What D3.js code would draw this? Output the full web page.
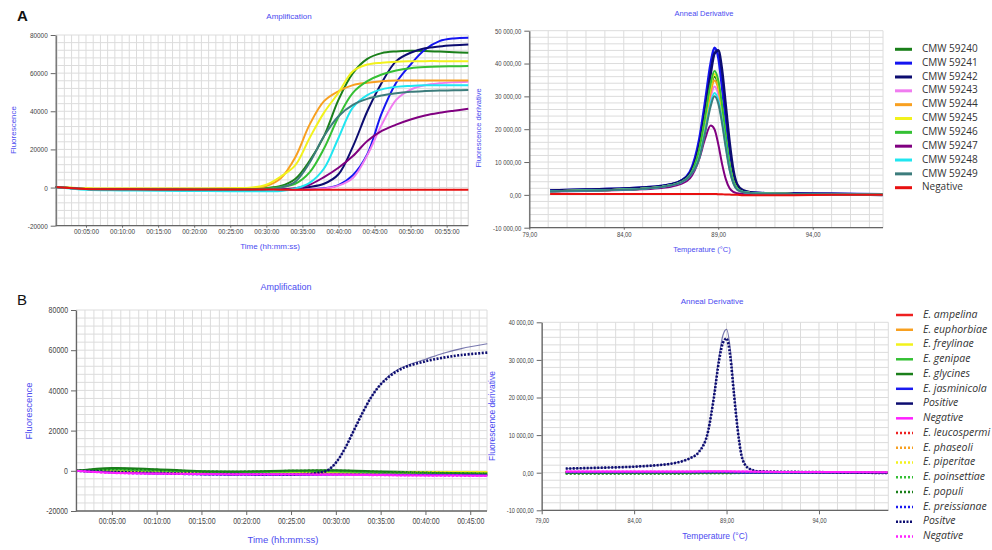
<!DOCTYPE html>
<html><head><meta charset="utf-8">
<script src="https://cdn.jsdelivr.net/npm/d3@7"></script>
<style>body{margin:0;background:#fff}svg{display:block}</style>
</head><body><svg id="c" width="992" height="550"></svg>
<script>
// ---------------- DATA ----------------
// Panel A – amplification (time in minutes)
const ampTimeA = [0.8,5,10,15,20,25,28,30,32,34,36,38,40,42,44,46,48,50,52,54,56,58];
const ampA_59240 = [300,-600,-700,-700,-700,-700,-500,-200,800,4500,14000,27000,46000,60000,67500,70500,71400,71700,71600,71300,71000,70700];
const ampA_59241 = [300,-800,-1000,-1100,-1200,-1300,-1300,-1300,-1300,-1200,-1000,-400,1300,6500,17500,39000,55000,64500,72400,76800,78200,78500];
const ampA_59242 = [300,-800,-1000,-1100,-1200,-1300,-1300,-1200,-1000,-600,300,2000,7000,21500,40000,55000,66300,70700,73000,74000,74600,75000];
const ampA_59243 = [300,-800,-1000,-1100,-1200,-1300,-1300,-1300,-1300,-1200,-1000,-500,1000,5000,17000,33000,46000,51400,53700,54700,55200,55500];
const ampA_59244 = [300,-500,-600,-600,-600,-500,-300,800,4900,15800,33000,45300,50500,53700,55000,55800,56100,56100,56100,56100,56100,56100];
const ampA_59245 = [300,-400,-500,-500,-500,-300,0,1500,5800,11600,26000,39300,49700,61000,64500,65500,66000,66200,66300,66300,66300,66300];
const ampA_59246 = [300,-700,-800,-900,-900,-900,-800,-500,300,2000,8000,20500,37000,49700,55800,59300,61400,62600,63200,63500,63600,63700];
const ampA_59247 = [300,-700,-900,-1000,-1100,-1200,-1200,-1100,-900,-300,1500,5500,10400,16500,24400,29700,33000,35700,37800,39200,40300,41300];
const ampA_59248 = [300,-1200,-1500,-1700,-1800,-1900,-1900,-1900,-1800,-500,2500,10000,26000,42000,48500,51500,52800,53300,53600,53700,53700,53700];
const ampA_59249 = [300,-800,-1000,-1100,-1200,-1200,-1100,-900,0,3000,13000,27000,37400,43400,46500,48300,49500,50200,50600,50900,51000,51200];
const ampA_neg   = [300,-700,-900,-1000,-1000,-1000,-1000,-1000,-1100,-1100,-1100,-1100,-1100,-1100,-1100,-1100,-1100,-1100,-1100,-1100,-1100,-1100];

// Panel A – anneal derivative (temperature °C)
const meltTempA = [80.1,82,84,85,86,86.5,87,87.5,88,88.3,88.6,88.8,89.0,89.2,89.4,89.6,89.8,90.0,90.3,90.7,91.5,93,95,97.7];
const meltA_59240 = [1100,1300,1600,1900,2400,2900,3700,5800,13400,22400,32400,36000,33400,26300,17200,9100,4100,1900,900,600,400,300,200,100];
const meltA_59241 = [1300,1600,1900,2200,2700,3200,4200,7000,17000,28000,40000,44800,42000,33000,22000,12000,5500,2500,1200,700,500,400,300,200];
const meltA_59242 = [1300,1600,1900,2200,2700,3200,4200,6500,15000,25000,37000,43000,44000,38000,27000,16000,7500,3200,1400,800,500,400,300,0];
const meltA_59243 = [1100,1300,1600,1900,2400,2900,3700,5800,12300,20600,29700,33000,30600,24100,15700,8300,3800,1800,900,600,400,300,200,100];
const meltA_59244 = [1100,1300,1600,1900,2400,2900,3700,5800,12900,21700,31300,34800,32300,25400,16600,8800,4000,1900,900,600,400,300,200,100];
const meltA_59245 = [1100,1300,1600,1900,2400,2900,3700,5800,13600,22900,33100,36800,34200,26900,17500,9300,4200,2000,900,600,400,300,200,100];
const meltA_59246 = [1100,1300,1600,1900,2400,2900,3800,6000,14000,23500,34000,37700,35000,27500,18000,9500,4300,2000,1000,600,400,300,200,100];
const meltA_59247 = [1000,1200,1500,1700,2100,2500,3300,5000,11000,17000,21100,20000,15500,9500,4800,2000,900,500,300,200,200,100,100,0];
const meltA_59248 = [1100,1300,1600,1900,2400,2900,3700,5800,11500,19300,27900,31000,28800,22600,14800,7800,3600,1700,900,600,400,300,200,100];
const meltA_59249 = [1100,1300,1600,1900,2400,2900,3700,5800,11200,18700,27000,30000,27800,21900,14300,7600,3500,1600,900,600,400,300,200,100];
const meltA_neg   = [300,300,300,300,300,300,300,300,300,300,300,300,200,200,100,100,0,0,-100,-100,-100,-100,0,0];

const namesA = ["CMW 59240","CMW 59241","CMW 59242","CMW 59243","CMW 59244","CMW 59245","CMW 59246","CMW 59247","CMW 59248","CMW 59249","Negative"];
const ampValsA  = [ampA_59240,ampA_59241,ampA_59242,ampA_59243,ampA_59244,ampA_59245,ampA_59246,ampA_59247,ampA_59248,ampA_59249,ampA_neg];
const meltValsA = [meltA_59240,meltA_59241,meltA_59242,meltA_59243,meltA_59244,meltA_59245,meltA_59246,meltA_59247,meltA_59248,meltA_59249,meltA_neg];

// Panel B – amplification
const ampTimeB = [1,5,10,15,20,25,30,35,40,46.9];
const ampTimePosB = [1,5,10,15,20,25,27,28,29,30,31,32,33,34,35,36,37,38,40,42,44,46.9];
const ampB_ampelina    = [0,-400,-800,-1100,-1300,-1400,-1500,-1700,-1900,-2100];
const ampB_euphorbiae  = [0,-300,-600,-800,-900,-900,-800,-800,-800,-700];
const ampB_freylinae   = [0,-200,-500,-700,-800,-800,-700,-700,-600,-600];
const ampB_genipae     = [0,600,100,-400,-600,-300,-300,-700,-1000,-1300];
const ampB_glycines    = [0,1400,800,-200,-300,200,300,-300,-900,-1400];
const ampB_jasminicola = [0,-800,-1300,-1700,-1900,-2000,-1900,-1900,-2000,-2200];
const ampB_positive    = [0,-600,-1100,-1500,-1700,-1800,-1500,-1000,0,4000,11000,20000,29000,37000,43000,47500,50500,52500,55500,58500,60800,63200];
const ampB_negative    = [0,-1000,-1400,-1600,-1700,-1700,-1900,-2100,-2300,-2500];
const ampB_leucospermi = [0,-500,-900,-1200,-1400,-1500,-1600,-1800,-2000,-2200];
const ampB_phaseoli    = [0,-300,-700,-900,-1000,-1000,-900,-900,-900,-800];
const ampB_piperitae   = [0,-200,-600,-800,-900,-900,-800,-800,-700,-700];
const ampB_poinsettiae = [0,500,0,-500,-700,-400,-400,-800,-1100,-1400];
const ampB_populi      = [0,1000,500,-300,-400,0,100,-500,-1000,-1500];
const ampB_preissianae = [0,-900,-1400,-1800,-2000,-2100,-2000,-2000,-2100,-2300];
const ampB_positve     = [0,-600,-1100,-1500,-1700,-1800,-1500,-1000,0,4000,11000,20000,29000,37000,43000,47000,50000,52000,54500,56300,57600,58800];
const ampB_negative2   = [0,-1100,-1500,-1700,-1800,-1800,-2000,-2200,-2400,-2600];

// Panel B – anneal derivative
const meltTempB = [80.3,82,84,85,86,86.5,87,87.5,88,88.3,88.6,88.8,89.0,89.2,89.4,89.6,89.8,90.0,90.3,90.7,91.5,93,95,97.7];
const meltTempFlatB = [80.3,83,86,88,89,90,92,95,97.7];
const meltB_ampelina    = [200,200,200,200,200,100,0,0,0];
const meltB_euphorbiae  = [200,200,200,200,200,100,100,0,0];
const meltB_freylinae   = [200,200,200,200,200,100,100,0,0];
const meltB_genipae     = [0,0,0,0,0,0,0,0,0];
const meltB_glycines    = [-100,-100,-100,0,0,0,0,0,0];
const meltB_jasminicola = [100,100,100,100,100,0,0,0,0];
const meltB_positive    = [1100,1300,1600,1900,2400,2900,3800,5500,11000,20000,31000,36500,38100,33000,22000,12000,5000,2200,900,400,300,200,100,-100];
const meltB_negative    = [300,300,300,400,400,300,200,200,100];
const meltB_leucospermi = [200,200,200,200,100,100,0,0,0];
const meltB_phaseoli    = [200,200,200,200,100,100,0,0,0];
const meltB_piperitae   = [100,100,100,100,100,0,0,0,0];
const meltB_poinsettiae = [-300,-300,-300,-200,-200,-100,-100,0,0];
const meltB_populi      = [-200,-200,-200,-100,-100,-100,0,0,0];
const meltB_preissianae = [100,100,100,100,100,0,0,0,0];
const meltB_positve     = [1100,1300,1600,1900,2400,2900,3800,5500,11000,19500,30000,34500,35700,31000,21000,11500,4800,2100,900,400,300,200,100,-100];
const meltB_negative2   = [300,300,300,300,300,300,200,100,100];

const namesB = ["E. ampelina","E. euphorbiae","E. freylinae","E. genipae","E. glycines","E. jasminicola","Positive","Negative",
                "E. leucospermi","E. phaseoli","E. piperitae","E. poinsettiae","E. populi","E. preissianae","Positve","Negative"];
const ampValsB  = [ampB_ampelina,ampB_euphorbiae,ampB_freylinae,ampB_genipae,ampB_glycines,ampB_jasminicola,ampB_positive,ampB_negative,
                   ampB_leucospermi,ampB_phaseoli,ampB_piperitae,ampB_poinsettiae,ampB_populi,ampB_preissianae,ampB_positve,ampB_negative2];
const meltValsB = [meltB_ampelina,meltB_euphorbiae,meltB_freylinae,meltB_genipae,meltB_glycines,meltB_jasminicola,meltB_positive,meltB_negative,
                   meltB_leucospermi,meltB_phaseoli,meltB_piperitae,meltB_poinsettiae,meltB_populi,meltB_preissianae,meltB_positve,meltB_negative2];

// tick labels
const timeTicksA = [5,10,15,20,25,30,35,40,45,50,55];
const timeTickLabelsA = ["00:05:00","00:10:00","00:15:00","00:20:00","00:25:00","00:30:00","00:35:00","00:40:00","00:45:00","00:50:00","00:55:00"];
const timeTicksB = [5,10,15,20,25,30,35,40,45];
const timeTickLabelsB = ["00:05:00","00:10:00","00:15:00","00:20:00","00:25:00","00:30:00","00:35:00","00:40:00","00:45:00"];
const ampYTicks = [-20000,0,20000,40000,60000,80000];
const ampYTickLabels = ["-20000","0","20000","40000","60000","80000"];
const tempTicks = [79,84,89,94];
const tempTickLabels = ["79,00","84,00","89,00","94,00"];
const meltYTicksA = [-10000,0,10000,20000,30000,40000,50000];
const meltYTickLabelsA = ["-10 000,00","0,00","10 000,00","20 000,00","30 000,00","40 000,00","50 000,00"];
const meltYTicksB = [-10000,0,10000,20000,30000,40000];
const meltYTickLabelsB = ["-10 000,00","0,00","10 000,00","20 000,00","30 000,00","40 000,00"];

// ---------------- STYLES ----------------
const colorsA = ["#1a7f1a","#1414f0","#0c0c70","#f07cf0","#f8a020","#f2f21c","#34c034","#800080","#20e6f0","#3c7c7c","#e81010"];
const colorsB = ["#ee2020","#f8a020","#f2f21c","#34c034","#1a7f1a","#1a1af0","#0c0c70","#ff20ff",
                 "#ee2020","#f8a020","#f2f21c","#34c034","#1a7f1a","#1a1af0","#0c0c70","#ff20ff"];
const TXT = "#4b4bf0";
const TICKFONT = "'Liberation Sans',Arial,sans-serif";
const GRID = "#dcdcdc";

const svg = d3.select("#c");

function drawPanel(p){
  const x = d3.scaleLinear().domain(p.xDomain).range([p.left,p.right]);
  const y = d3.scaleLinear().domain(p.yDomain).range([p.bottom,p.top]);
  const g = svg.append("g");
  const gx = d3.range(Math.ceil(p.xDomain[0]), p.xDomain[1]+1e-9, 1);
  g.selectAll(null).data(gx).join("line")
    .attr("x1",d=>x(d)).attr("x2",d=>x(d)).attr("y1",p.top).attr("y2",p.bottom)
    .attr("stroke",GRID).attr("stroke-width",1);
  const gy = d3.range(p.yDomain[0], p.yDomain[1]+1e-9, p.gridY);
  g.selectAll(null).data(gy).join("line")
    .attr("x1",p.left).attr("x2",p.right).attr("y1",d=>y(d)).attr("y2",d=>y(d))
    .attr("stroke",GRID).attr("stroke-width",1);
  g.append("line").attr("x1",p.right).attr("x2",p.right).attr("y1",p.top).attr("y2",p.bottom).attr("stroke",GRID);

  const line = d3.line().curve(p.curve);
  p.series.forEach(s=>{
    const pts = s.x.map((xv,i)=>[x(xv), y(s.y[i])]);
    g.append("path").attr("d",line(pts)).attr("fill","none")
      .attr("stroke",s.color).attr("stroke-width",s.width||2)
      .attr("stroke-opacity",s.opacity||1)
      .attr("stroke-dasharray",s.dash||null)
      .attr("stroke-linejoin","round");
  });

  const ax = d3.axisBottom(x).tickValues(p.xTicks).tickFormat((d,i)=>p.xTickLabels[i])
    .tickSize(p.xTickSize).tickPadding(p.xTickPad).tickSizeOuter(0);
  const axg = g.append("g").attr("transform",`translate(0,${p.bottom})`).call(ax);
  const ay = d3.axisLeft(y).tickValues(p.yTicks).tickFormat((d,i)=>p.yTickLabels[i])
    .tickSize(5).tickPadding(3).tickSizeOuter(0);
  const ayg = g.append("g").attr("transform",`translate(${p.left},0)`).call(ay);
  [axg,ayg].forEach(a=>{
    a.select(".domain").attr("stroke","#666").attr("stroke-width",1.3);
    a.selectAll(".tick line").attr("stroke","#666");
    a.selectAll(".tick text").attr("fill","#444").style("font-family",TICKFONT).style("font-size",p.tickFs+"px")
      .each(function(){
        const w = this.getComputedTextLength();
        d3.select(this).attr("textLength",w*p.squeeze).attr("lengthAdjust","spacingAndGlyphs");
      });
  });
  axg.select(".domain").attr("d",`M${p.left},0H${p.right}`);

  const t = (txt,xx,yy,fs,rot)=>{
    const e = svg.append("text").text(txt).attr("fill",TXT)
      .style("font-family","Arial,'Liberation Sans',sans-serif").style("font-size",fs+"px")
      .attr("text-anchor","middle").attr("dominant-baseline","middle");
    if(rot) e.attr("transform",`translate(${xx},${yy}) rotate(-90)`);
    else e.attr("x",xx).attr("y",yy);
  };
  t(p.title,p.titleXY[0],p.titleXY[1],p.titleFs);
  t(p.xlabel,p.xlabelXY[0],p.xlabelXY[1],p.labelFs);
  t(p.ylabel,p.ylabelXY[0],p.ylabelXY[1],p.labelFs,true);
}

function legend(names,colors,dashes,x0,y0,dy,italic,lw,fs){
  names.forEach((n,i)=>{
    const yy = y0+i*dy;
    svg.append("line").attr("x1",x0).attr("x2",x0+17).attr("y1",yy).attr("y2",yy)
      .attr("stroke",colors[i]).attr("stroke-width",lw).attr("stroke-dasharray",dashes[i]||null);
    svg.append("text").text(n).attr("x",x0+27).attr("y",yy).attr("dominant-baseline","middle")
      .attr("fill","#333").style("font-family","'Open Sans',sans-serif").style("font-size",fs+"px")
      .style("font-style",italic?"italic":"normal");
  });
}

const ampCurve = d3.curveCatmullRom.alpha(0.5);
const meltCurve = d3.curveMonotoneX;

// ---- Panel A left
drawPanel({
  xDomain:[0.8,58], yDomain:[-20000,80000], left:55.7, right:468.3, top:35, bottom:225.7, gridY:4000, curve:ampCurve,
  xTicks:timeTicksA, xTickLabels:timeTickLabelsA, yTicks:ampYTicks, yTickLabels:ampYTickLabels,
  xTickSize:2, xTickPad:1, tickFs:8, squeeze:0.8,
  title:"Amplification", titleXY:[289,17], titleFs:8,
  xlabel:"Time (hh:mm:ss)", xlabelXY:[270,247], ylabel:"Fluorescence", ylabelXY:[14,130], labelFs:8,
  series: namesA.map((n,i)=>({x:ampTimeA, y:ampValsA[i], color:colorsA[i], width:2}))
});
// ---- Panel A right
drawPanel({
  xDomain:[79,97.72], yDomain:[-10000,50000], left:529.3, right:883, top:30.7, bottom:227.7, gridY:2000, curve:meltCurve,
  xTicks:tempTicks, xTickLabels:tempTickLabels, yTicks:meltYTicksA, yTickLabels:meltYTickLabelsA,
  xTickSize:2, xTickPad:2.5, tickFs:7.2, squeeze:0.82,
  title:"Anneal Derivative", titleXY:[704,14], titleFs:7.5,
  xlabel:"Temperature (°C)", xlabelXY:[702,250], ylabel:"Fluorescence derivative", ylabelXY:[479,128], labelFs:7.5,
  series: namesA.map((n,i)=>({x:meltTempA, y:meltValsA[i], color:colorsA[i], width:(i===1||i===2)?2.6:2}))
});
legend(namesA,colorsA,[],895,49.3,13.84,false,3,10);

// ---- Panel B left
const dashB = [null,null,null,null,null,null,null,null,"2,2","2,2","2,2","2,2","2,2","2,2","2,1.5","2,2"];
const ampSeriesB = namesB.map((n,i)=>({
  x:(i===6||i===14)?ampTimePosB:ampTimeB, y:ampValsB[i], color:colorsB[i],
  width:i===6?1.2:(i===14?2.6:2), opacity:i===6?0.55:1, dash:dashB[i]
}));
drawPanel({
  xDomain:[1,46.87], yDomain:[-20000,80000], left:76, right:487, top:310, bottom:511, gridY:4000, curve:ampCurve,
  xTicks:timeTicksB, xTickLabels:timeTickLabelsB, yTicks:ampYTicks, yTickLabels:ampYTickLabels,
  xTickSize:4, xTickPad:3, tickFs:8.5, squeeze:0.82,
  title:"Amplification", titleXY:[286,288], titleFs:9,
  xlabel:"Time (hh:mm:ss)", xlabelXY:[283,540], ylabel:"Fluorescence", ylabelXY:[29,411], labelFs:9.5,
  series: [0,1,2,3,4,5,8,9,10,11,12,13,6,14,7,15].map(i=>ampSeriesB[i])
});
// ---- Panel B right
const meltSeriesB = namesB.map((n,i)=>({
  x:(i===6||i===14)?meltTempB:meltTempFlatB, y:meltValsB[i], color:colorsB[i],
  width:i===6?1.2:(i===14?2.6:2), opacity:i===6?0.55:1, dash:dashB[i]
}));
drawPanel({
  xDomain:[79,97.75], yDomain:[-10000,40000], left:541.7, right:888.3, top:322.3, bottom:510.3, gridY:2000, curve:meltCurve,
  xTicks:tempTicks, xTickLabels:tempTickLabels, yTicks:meltYTicksB, yTickLabels:meltYTickLabelsB,
  xTickSize:4, xTickPad:3, tickFs:7.5, squeeze:0.75,
  title:"Anneal Derivative", titleXY:[712,302], titleFs:8,
  xlabel:"Temperature (°C)", xlabelXY:[715,537], ylabel:"Fluorescence derivative", ylabelXY:[493,416], labelFs:8.5,
  series: [0,1,2,3,4,5,8,9,10,11,12,13,6,14,7,15].map(i=>meltSeriesB[i])
});
legend(namesB,colorsB,dashB,896,315,14.76,true,2.5,10.5);

// panel letters
svg.append("text").text("A").attr("x",17).attr("y",21).attr("fill","#111")
  .style("font-family","Arial,'Liberation Sans',sans-serif").style("font-size","15px").style("font-weight","bold");
svg.append("text").text("B").attr("x",17).attr("y",305).attr("fill","#111")
  .style("font-family","Arial,'Liberation Sans',sans-serif").style("font-size","15px");
</script></body></html>
